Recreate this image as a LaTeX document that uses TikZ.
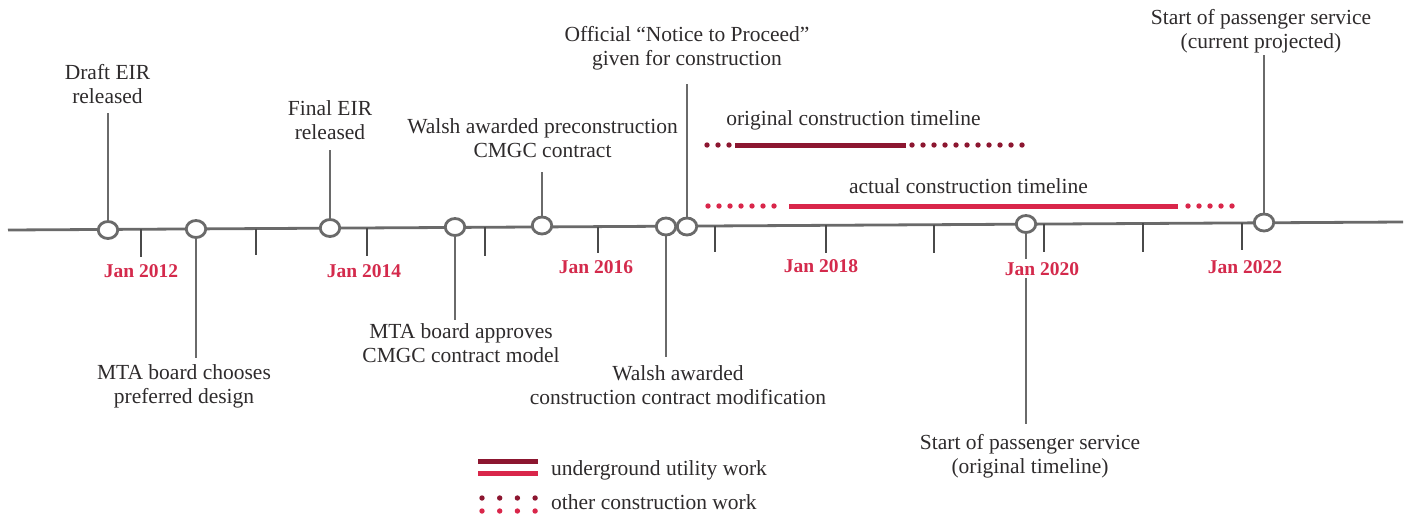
\documentclass[tikz,border=0pt]{standalone}
\usepackage{fontspec}
\setmainfont{Liberation Serif}
\usetikzlibrary{shapes.geometric}
\definecolor{txt}{HTML}{2E2B2C}
\definecolor{linegray}{HTML}{6A6A6A}
\definecolor{tickgray}{HTML}{4A4A4A}
\definecolor{yearred}{HTML}{D42A4C}
\definecolor{darkred}{HTML}{8C1630}
\definecolor{brightred}{HTML}{D9264A}
\tikzset{
  lbl/.style={font=\fontsize{21.5}{23.5}\selectfont, text=txt, align=center, inner sep=0pt, anchor=base},
  yr/.style={font=\fontsize{19.5}{22}\selectfont\bfseries, text=yearred, fill=white, inner xsep=0pt, inner ysep=3pt, anchor=base},
  evt/.style={ellipse, draw=linegray, line width=2.8pt, fill=white, minimum width=19.5pt, minimum height=17pt, inner sep=0pt},
  tl/.style={draw=linegray, line width=2.8pt},
  tickmark/.style={draw=tickgray, line width=2.6pt},
  solidbar/.style={line width=5pt},
  dotbar/.style={line width=5.4pt, line cap=round, dash pattern=on 0pt off 11pt},
}
\begin{document}
\begin{tikzpicture}[x=1pt,y=-1pt]
\useasboundingbox (0,0) rectangle (1408,515);
% main timeline
\coordinate (L) at (8,230);
\coordinate (R) at (1403,222);
\draw[tl] (L) -- (R);
% ticks
\foreach \x/\b in {141/257,256/255,367/256,485/256,598/253,715/252,826/253,934/253,1044/252,1143/252,1242/250}{
  \pgfmathsetmacro{\yy}{230-(\x-8)*0.005735}
  \draw[tickmark] (\x,\yy) -- (\x,\b);
}
% event circles
\node[evt] (c1) at (108,230) {};
\node[evt] (c2) at (196,229) {};
\node[evt] (c3) at (330,228) {};
\node[evt] (c4) at (455,227) {};
\node[evt] (c5) at (542,225.5) {};
\node[evt] (c6) at (666,226.5) {};
\node[evt] (c7) at (687,226.5) {};
\node[evt] (c8) at (1026,224) {};
\node[evt] (c9) at (1264,222.5) {};
% stem ends
\coordinate (s1) at (108,113);
\coordinate (s2) at (196,358);
\coordinate (s3) at (330,150);
\coordinate (s4) at (455,320);
\coordinate (s5) at (542,172);
\coordinate (s6) at (666,357);
\coordinate (s7) at (687,84);
\coordinate (s8) at (1026,424);
\coordinate (s9) at (1264,55);
\draw[tl] (c1) -- (s1);
\draw[tl] (c2) -- (s2);
\draw[tl] (c3) -- (s3);
\draw[tl] (c4) -- (s4);
\draw[tl] (c5) -- (s5);
\draw[tl] (c6) -- (s6);
\draw[tl] (c7) -- (s7);
\draw[tl] (c8) -- (s8);
\draw[tl] (c9) -- (s9);
% year labels
\node[yr] (y12) at (141,277) {Jan 2012};
\node[yr] (y14) at (364,277) {Jan 2014};
\node[yr] (y16) at (596,273) {Jan 2016};
\node[yr] (y18) at (821,272) {Jan 2018};
\node[yr] (y20) at (1042,275) {Jan 2020};
\node[yr] (y22) at (1245,273) {Jan 2022};
% event labels (anchor base = last line baseline)
\node[lbl] (t1) at (107.5,103) {Draft EIR\\released};
\node[lbl] (t2) at (184,403) {MTA board chooses\\preferred design};
\node[lbl] (t3) at (330,139) {Final EIR\\released};
\node[lbl] (t4) at (461,362) {MTA board approves\\CMGC contract model};
\node[lbl] (t5) at (542.5,157) {Walsh awarded preconstruction\\CMGC contract};
\node[lbl] (t6) at (678,404) {Walsh awarded\\construction contract modification};
\node[lbl] (t7) at (687,65) {Official “Notice to Proceed”\\given for construction};
\node[lbl] (t8) at (1030,473) {Start of passenger service\\(original timeline)};
\node[lbl] (t9) at (1261,48) {Start of passenger service\\(current projected)};
% construction timelines
\node[lbl] (orig) at (853.5,125) {original construction timeline};
\draw[darkred, dotbar] (707,145) -- (730,145);
\draw[darkred, solidbar] (735,145) -- (906,145);
\draw[darkred, dotbar] (912,145) -- (1023,145);
\node[lbl] (act) at (968.5,193) {actual construction timeline};
\draw[brightred, dotbar] (708,206) -- (785,206);
\draw[brightred, solidbar] (789,206) -- (1178,206);
\draw[brightred, dotbar] (1188,206) -- (1237,206);
% legend
\draw[darkred, solidbar] (478,461) -- (538,461);
\draw[brightred, solidbar] (478,473) -- (538,473);
\node[lbl, anchor=base west] (lg1) at (551,475) {underground utility work};
\draw[darkred, dotbar, dash pattern=on 0pt off 17.7pt] (482,498) -- (536,498);
\draw[brightred, dotbar, dash pattern=on 0pt off 17.7pt] (482,511) -- (536,511);
\node[lbl, anchor=base west] (lg2) at (551,509) {other construction work};
\end{tikzpicture}
\end{document}
